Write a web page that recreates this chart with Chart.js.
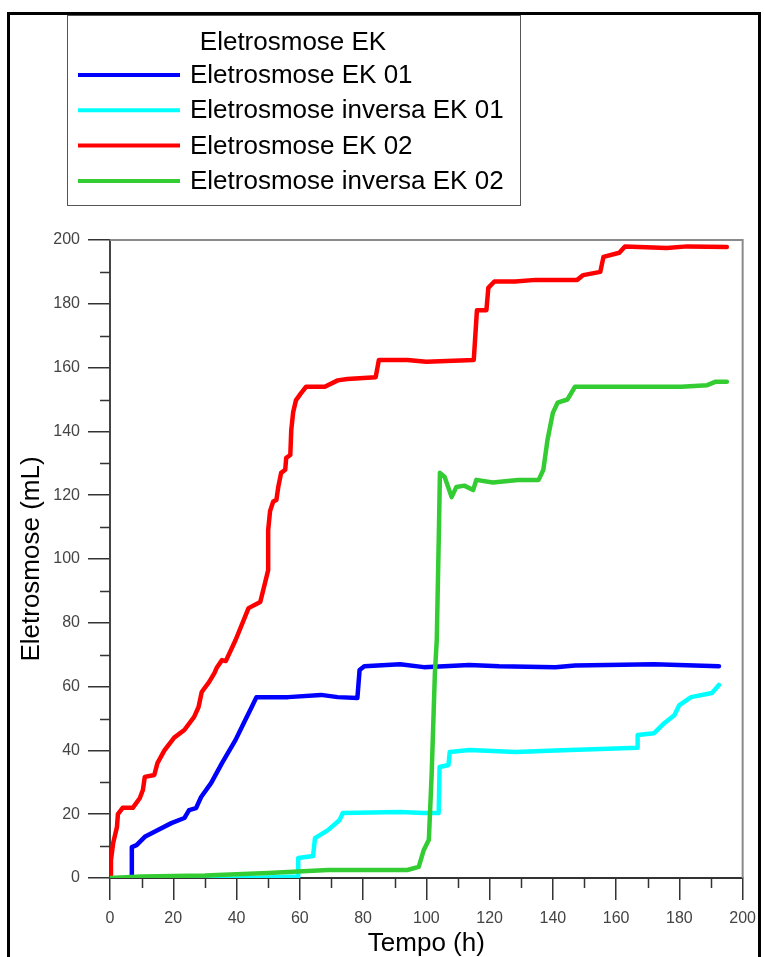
<!DOCTYPE html>
<html>
<head>
<meta charset="utf-8">
<script src="https://cdn.jsdelivr.net/npm/chart.js@4"></script>
<style>
  html, body { margin: 0; padding: 0; background: #fff; }
  #wrap { width: 765px; height: 957px; }
</style>
</head>
<body>
<div id="wrap"><canvas id="grafico" width="765" height="957"></canvas></div>
<script>
// tempo (h) e volume (mL)
const tempoEK01 = [6, 6.9, 6.9, 8.4, 11, 15, 19.4, 23.5, 25, 27.2, 28.8, 32, 35.4, 39.7, 42.3, 44.8, 46.3, 56.3, 66.7, 72, 78.2, 78.9, 80.4, 91.7, 99.2, 113.6, 123, 140.8, 147, 172, 192.5];
const eletroEK01 = [0, 0, 9.7, 10.3, 12.9, 15, 17.2, 18.8, 21.3, 21.9, 25.4, 29.8, 36, 43.3, 48.6, 53.6, 56.7, 56.7, 57.4, 56.7, 56.4, 65.2, 66.4, 67, 66.1, 66.8, 66.4, 66.1, 66.6, 67, 66.4];

const tempoInvEK01 = [6, 20, 30, 45, 59.5, 59.5, 64.2, 64.8, 68.9, 72.6, 73.6, 91.7, 99.2, 103.9, 104.2, 107, 107.4, 113.6, 128.3, 140.8, 166.8, 166.8, 172, 175.3, 178.4, 180, 183.7, 190.3, 192.5];
const eletroInvEK01 = [0, -0.5, -0.5, 0, 0.5, 6.3, 6.9, 12.5, 15, 18.2, 20.4, 20.7, 20.4, 20.4, 34.8, 35.4, 39.5, 40.1, 39.5, 40, 40.8, 44.8, 45.4, 48.6, 51, 54.2, 56.7, 58, 60.5];

const tempoEK02 = [0, 0.3, 1, 2.2, 2.5, 4, 7.2, 9.4, 10.4, 11, 14, 15, 17.2, 20.3, 23.5, 26.6, 28, 29, 31.3, 33, 33.8, 35.4, 36.6, 39.7, 43.8, 47.5, 49, 50, 50, 50.6, 51.6, 52.6, 53.2, 54.1, 55.4, 55.7, 57, 57.3, 57.9, 58.8, 60.4, 62, 67.9, 72, 75, 84, 85, 94, 100, 115, 116, 119, 119.6, 121.5, 128, 134.6, 147.7, 149.6, 155, 156, 161, 162.8, 176, 182.5, 195];
const eletroEK02 = [0, 5.6, 11, 16, 20, 22, 22, 25, 27.6, 31.7, 32.3, 36, 40, 44, 46.4, 50.5, 53.6, 58.3, 61.4, 64.2, 66, 68.3, 68, 74.6, 84.6, 86.5, 92.5, 96.5, 109, 115, 118, 118.5, 122.6, 127, 128, 131.7, 132.6, 140.4, 146, 149.8, 152, 154, 154, 156, 156.4, 157, 162.4, 162.4, 161.8, 162.4, 178, 178, 185, 187, 187, 187.5, 187.5, 189, 190, 194.7, 196, 198, 197.5, 198, 197.8];

const tempoInvEK02 = [0, 10, 30, 50, 68.9, 87.6, 94, 97.6, 99.2, 100.8, 101.7, 102.7, 103.3, 104, 104.3, 105.8, 108, 109.5, 112, 114.8, 115.8, 121, 129, 135.5, 137, 138.3, 140, 141.5, 144.6, 147, 166, 180.6, 188.8, 191.5, 195];
const eletroInvEK02 = [0, 0.5, 0.8, 1.6, 2.5, 2.5, 2.5, 3.5, 8.8, 12, 32.9, 64, 74.6, 110, 127, 125.7, 119.4, 122.6, 123, 121.6, 124.8, 124, 124.8, 124.8, 128, 137.3, 145.8, 149, 150, 154, 154, 154, 154.5, 155.6, 155.6];

const ticksX = [0, 20, 40, 60, 80, 100, 120, 140, 160, 180, 200];
const ticksY = [0, 20, 40, 60, 80, 100, 120, 140, 160, 180, 200];
const minorX = [10, 30, 50, 70, 90, 110, 130, 150, 170, 190];
const minorY = [10, 30, 50, 70, 90, 110, 130, 150, 170, 190];

const tituloLegenda = 'Eletrosmose EK';

const pontos = (xs, ys) => xs.map((x, i) => ({ x: x, y: ys[i] }));

const fonteTexto = "'Liberation Sans', Arial, sans-serif";
const fonteTicks = "'Liberation Sans Narrow', 'Arial Narrow', 'Liberation Sans', Arial, sans-serif";

const series = [
  { label: 'Eletrosmose EK 01', color: '#0000ff', data: pontos(tempoEK01, eletroEK01), order: 3 },
  { label: 'Eletrosmose inversa EK 01', color: '#00ffff', data: pontos(tempoInvEK01, eletroInvEK01), order: 2 },
  { label: 'Eletrosmose EK 02', color: '#ff0000', data: pontos(tempoEK02, eletroEK02), order: 1 },
  { label: 'Eletrosmose inversa EK 02', color: '#33cc33', data: pontos(tempoInvEK02, eletroInvEK02), order: 0 }
];

// moldura, bordas do grafico, ticks menores e legenda
const extras = {
  id: 'extras',
  beforeDraw(chart) {
    const ctx = chart.ctx;
    ctx.save();
    ctx.fillStyle = '#fff';
    ctx.fillRect(0, 0, chart.width, chart.height);
    ctx.restore();
  },
  afterDraw(chart) {
    const ctx = chart.ctx;
    const a = chart.chartArea;
    const sx = chart.scales.x, sy = chart.scales.y;
    ctx.save();

    ctx.strokeStyle = '#8a8a8a';
    ctx.lineWidth = 2;
    ctx.beginPath();
    ctx.moveTo(a.left, a.top);
    ctx.lineTo(a.right, a.top);
    ctx.lineTo(a.right, a.bottom);
    ctx.stroke();

    ctx.strokeStyle = '#333';
    ctx.lineWidth = 1.5;
    ctx.beginPath();
    minorX.forEach(v => {
      const px = Math.round(sx.getPixelForValue(v)) + 0.5;
      ctx.moveTo(px, a.bottom);
      ctx.lineTo(px, a.bottom + 10);
    });
    minorY.forEach(v => {
      const py = Math.round(sy.getPixelForValue(v)) + 0.5;
      ctx.moveTo(a.left, py);
      ctx.lineTo(a.left - 10, py);
    });
    ctx.stroke();

    // moldura externa
    ctx.strokeStyle = '#000';
    ctx.lineWidth = 3;
    ctx.strokeRect(8.5, 13.5, 751, 1000);

    // legenda
    ctx.fillStyle = '#fff';
    ctx.fillRect(67, 15, 453, 190);
    ctx.strokeStyle = '#555';
    ctx.lineWidth = 1;
    ctx.strokeRect(67.5, 15.5, 453, 190);
    ctx.fillStyle = '#000';
    ctx.font = '26px ' + fonteTexto;
    ctx.textBaseline = 'middle';
    ctx.textAlign = 'center';
    ctx.fillText(tituloLegenda, 293, 43);
    ctx.textAlign = 'left';
    series.forEach((s, i) => {
      const y = 75 + i * 35.3;
      ctx.strokeStyle = s.color;
      ctx.lineWidth = 4;
      ctx.beginPath();
      ctx.moveTo(78, y);
      ctx.lineTo(180, y);
      ctx.stroke();
      ctx.fillText(s.label, 190, y + 1);
    });
    ctx.restore();
  }
};

new Chart(document.getElementById('grafico'), {
  type: 'scatter',
  data: {
    datasets: series.map(s => ({
      label: s.label,
      data: s.data,
      order: s.order,
      showLine: true,
      borderColor: s.color,
      backgroundColor: s.color,
      borderWidth: 4.5,
      pointRadius: 0,
      tension: 0,
      borderJoinStyle: 'round',
      borderCapStyle: 'round'
    }))
  },
  options: {
    responsive: false,
    animation: false,
    layout: { padding: { top: 240, right: 16, left: 0, bottom: 0 } },
    plugins: { legend: { display: false }, tooltip: { enabled: false } },
    scales: {
      x: {
        type: 'linear',
        min: 0, max: 200,
        afterBuildTicks: s => { s.ticks = ticksX.map(v => ({ value: v })); },
        afterFit: s => { s.height = 79; },
        ticks: { color: '#444', font: { family: fonteTicks, size: 16 }, padding: 9, maxRotation: 0, autoSkip: false },
        grid: { drawOnChartArea: false, drawTicks: true, tickLength: 22, color: '#333', lineWidth: 1.5 },
        border: { display: true, color: '#333', width: 2 },
        title: { display: true, text: 'Tempo (h)', color: '#000', font: { family: fonteTexto, size: 26, lineHeight: 1 }, padding: { top: 0, bottom: 0 } }
      },
      y: {
        type: 'linear',
        min: 0, max: 200,
        afterBuildTicks: s => { s.ticks = ticksY.map(v => ({ value: v })); },
        afterFit: s => { s.width = 110; },
        ticks: { color: '#444', font: { family: fonteTicks, size: 16 }, padding: 8, autoSkip: false },
        grid: { drawOnChartArea: false, drawTicks: true, tickLength: 22, color: '#333', lineWidth: 1.5 },
        border: { display: true, color: '#444', width: 2 },
        title: { display: true, text: 'Eletrosmose (mL)', color: '#000', font: { family: fonteTexto, size: 26, lineHeight: 1.2 }, padding: { top: 16, bottom: 0 } }
      }
    }
  },
  plugins: [extras]
});
</script>
</body>
</html>
